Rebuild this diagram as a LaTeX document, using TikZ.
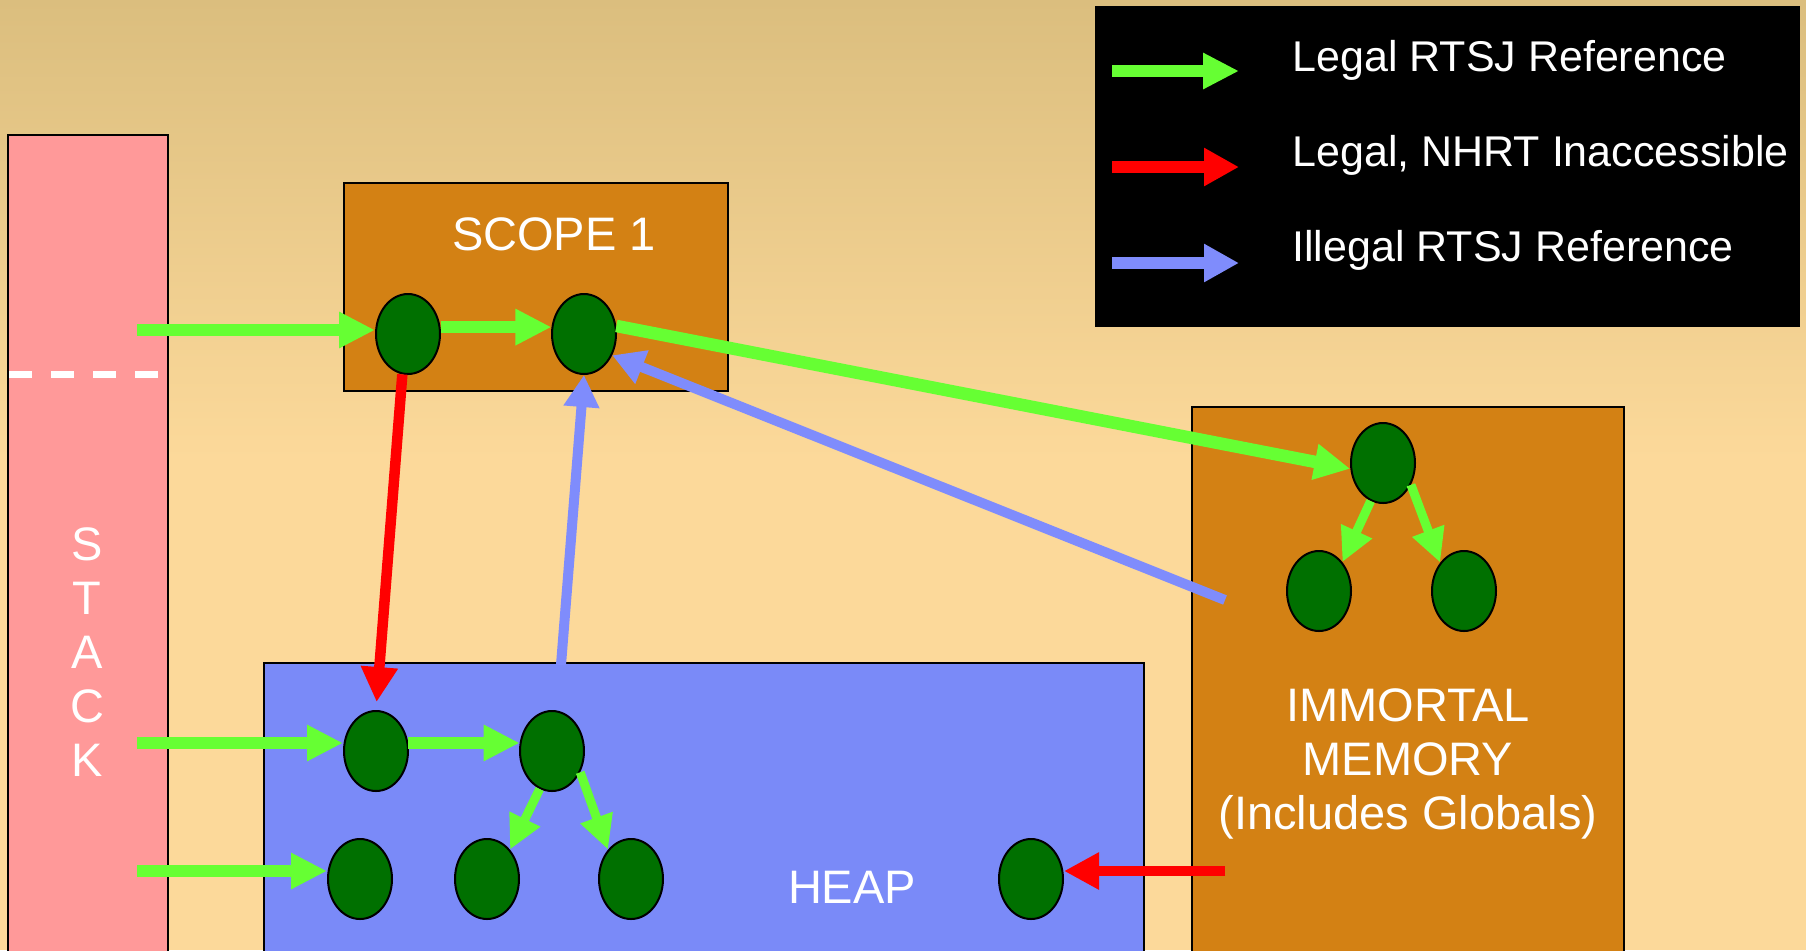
\documentclass[tikz,border=0pt]{standalone}
\usepackage{fontspec}
\setmainfont{Liberation Sans}
\usetikzlibrary{arrows.meta,shapes.geometric,calc}

\definecolor{bgtop}{RGB}{219,190,126}
\definecolor{bgbot}{RGB}{252,217,154}
\definecolor{stackpink}{RGB}{255,153,153}
\definecolor{memorange}{RGB}{211,129,20}
\definecolor{heapblue}{RGB}{122,138,248}
\definecolor{objgreen}{RGB}{0,112,0}
\definecolor{refgreen}{RGB}{102,255,51}
\definecolor{refred}{RGB}{255,0,0}
\definecolor{refblue}{RGB}{127,140,252}

\tikzset{
  region/.style={draw=black, line width=1pt},
  obj/.style={ellipse, draw=black, line width=1pt, fill=objgreen,
              minimum width=32pt, minimum height=40pt, inner sep=0pt},
  bigtext/.style={text=white, inner sep=0pt,
                  font=\fontsize{23.5}{27}\selectfont},
  legtext/.style={text=white, inner sep=0pt, anchor=base west,
                  font=\fontsize{21.5}{26}\selectfont},
  legalref/.style={draw=refgreen, line width=6.25pt,
                   -{Triangle[width=17pt,length=18pt]}},
  childref/.style={draw=refgreen, line width=4.5pt,
                   -{Triangle[width=16pt,length=17pt]}},
  nhrtref/.style={draw=refred, line width=5.25pt,
                  -{Triangle[width=17.5pt,length=17.5pt]}},
  illegalref/.style={draw=refblue, line width=5pt,
                     -{Triangle[width=17pt,length=16pt]}},
}

\begin{document}
\begin{tikzpicture}[x=0.5pt,y=-0.5pt]
  \useasboundingbox (0,0) rectangle (1806,950);
  \clip (0,0) rectangle (1806,950);

  % background
  \shade[top color=bgtop, bottom color=bgbot] (0,0) rectangle (1806,460);
  \fill[bgbot] (0,459) rectangle (1806,950);

  % memory regions
  \filldraw[region, fill=stackpink] (8,135) rectangle (168,970);
  \draw[white, line width=3.5pt, dash pattern=on 11.5pt off 9.5pt] (9,374) -- (160,374);
  \filldraw[region, fill=memorange] (344,183) rectangle (728,391);
  \filldraw[region, fill=heapblue] (264,663) rectangle (1144,970);
  \filldraw[region, fill=memorange] (1192,407) rectangle (1624,970);

  % legend
  \fill[black] (1095,6) rectangle (1800,327);

  % labels
  \node[bigtext, anchor=north, align=center] (stacklbl) at (87,527) {S\\T\\A\\C\\K};
  \node[bigtext, anchor=base] (scopelbl) at (554,250) {SCOPE 1};
  \node[bigtext, anchor=base] (heaplbl) at (852,903) {HEAP};
  \node[bigtext, anchor=north, align=center] (immlbl) at (1408,688)
       {IMMORTAL\\MEMORY\\(Includes Globals)};

  % objects
  \node[obj] (s1) at (408,334) {};
  \node[obj] (s2) at (584,334) {};
  \node[obj] (h1) at (376,751) {};
  \node[obj] (h2) at (552,751) {};
  \node[obj] (h3) at (360,879) {};
  \node[obj] (h4) at (487,879) {};
  \node[obj] (h5) at (631,879) {};
  \node[obj] (h6) at (1031,879) {};
  \node[obj] (m1) at (1383,463) {};
  \node[obj] (m2) at (1319,591) {};
  \node[obj] (m3) at (1464,591) {};

  % free ends of references
  \coordinate (st1) at (137,330);
  \coordinate (st2) at (137,743);
  \coordinate (st3) at (137,871);
  \coordinate (hb) at (561,665);
  \coordinate (mb) at (1225,600);
  \coordinate (mr) at (1225,871);

  % references
  \draw[legalref] (st1) -- (st1 -| s1.west);
  \draw[legalref] (s1.12) -- (s2.168);
  \draw[legalref] (st2) -- (st2 -| h1.west);
  \draw[legalref] (h1.14) -- (h2.166);
  \draw[legalref] (st3) -- (st3 -| h3.west);
  \draw[childref] (h2.-108) -- (h4.52);
  \draw[childref] (h2.-37) -- (h5.128);
  \draw[legalref] (s2.14) -- (m1.190);
  \draw[childref] (m1.-108) -- (m2.51);
  \draw[childref] (m1.-38) -- (m3.130);
  \draw[nhrtref, shorten >=4pt] (s1.-98) -- (h1.north);
  \draw[nhrtref] (mr) -- (mr -| h6.east);
  \draw[illegalref] (hb) -- (s2.south);
  \draw[illegalref] (mb) -- (s2.-37);

  % legend entries
  \coordinate (lg1) at (1112,71);  \coordinate (lg2) at (1239,71);
  \coordinate (lr1) at (1112,167); \coordinate (lr2) at (1239,167);
  \coordinate (lb1) at (1112,263); \coordinate (lb2) at (1239,263);
  \draw[legalref, line width=6pt] (lg1) -- (lg2);
  \draw[nhrtref, line width=6pt, -{Triangle[width=18pt,length=17.5pt]}] (lr1) -- (lr2);
  \draw[illegalref, line width=6pt, -{Triangle[width=18pt,length=17.5pt]}] (lb1) -- (lb2);
  \node[legtext] (leg1) at (1292,71) {Legal RTSJ Reference};
  \node[legtext] (leg2) at (1292,166) {Legal, NHRT Inaccessible};
  \node[legtext] (leg3) at (1292,261) {Illegal RTSJ Reference};
\end{tikzpicture}
\end{document}
